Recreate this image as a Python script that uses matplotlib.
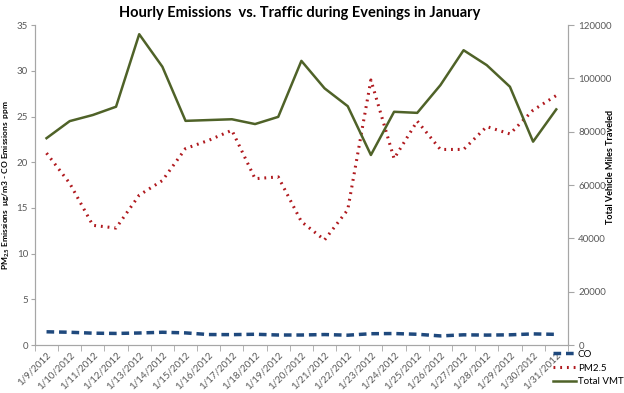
import matplotlib
matplotlib.use('Agg')
from matplotlib import pyplot as plt
import numpy as np

plt.rcParams['font.family'] = ['Lato', 'DejaVu Sans']
plt.rcParams['mathtext.default'] = 'regular'

# data
dates = ['1/9/2012', '1/10/2012', '1/11/2012', '1/12/2012', '1/13/2012', '1/14/2012',
         '1/15/2012', '1/16/2012', '1/17/2012', '1/18/2012', '1/19/2012', '1/20/2012',
         '1/21/2012', '1/22/2012', '1/23/2012', '1/24/2012', '1/25/2012', '1/26/2012',
         '1/27/2012', '1/28/2012', '1/29/2012', '1/30/2012', '1/31/2012']
co = [1.45, 1.40, 1.30, 1.27, 1.32, 1.40, 1.33, 1.15, 1.14, 1.18, 1.10, 1.10,
      1.15, 1.08, 1.24, 1.26, 1.18, 1.00, 1.12, 1.09, 1.12, 1.22, 1.17]
pm25 = [21.0, 17.7, 13.1, 12.8, 16.4, 18.0, 21.5, 22.4, 23.5, 18.2, 18.4, 13.5,
        11.5, 14.8, 29.0, 20.4, 24.5, 21.4, 21.4, 23.9, 23.1, 25.7, 27.3]
vmt = [77600, 84000, 86300, 89400, 116600, 104400, 84100, 84400, 84700, 82900, 85600,
       106600, 96300, 89600, 71300, 87500, 87100, 97500, 110600, 105000, 96900, 76300, 88400]

x = np.arange(len(dates))
grey = '#595959'
spine_c = '#a6a6a6'

fig = plt.figure(figsize=(6.24, 3.93), dpi=100)
ax = fig.add_axes([0.056, 0.122, 0.854, 0.814])
ax2 = ax.twinx()

l1, = ax.plot(x, co, color='#1f497d', lw=2.5, ls=(0, (2.2, 1.4)), label='CO')
l2, = ax.plot(x, pm25, color='#b0191e', lw=2.2, ls=(0, (0.6, 1.6)), label='PM2.5')
l3, = ax2.plot(x, vmt, color='#4f6228', lw=1.8, label='Total VMT')

ax.set_xlim(-0.5, len(dates) - 0.5)
ax.set_ylim(0, 35)
ax.set_yticks(np.arange(0, 36, 5))
ax2.set_ylim(0, 120000)
ax2.set_yticks(np.arange(0, 120001, 20000))

ax.set_xticks(x)
ax.set_xticklabels(dates, rotation=45, ha='right', rotation_mode='anchor', fontsize=7, color=grey)
ax.set_xticks(np.arange(-0.5, len(dates), 1), minor=True)
ax.tick_params(axis='x', which='major', length=0, pad=4)
ax.tick_params(axis='x', which='minor', length=4, color=spine_c)
ax.tick_params(axis='y', labelsize=7, colors=grey, length=3, color=spine_c, pad=2)
ax2.tick_params(axis='y', labelsize=7, colors=grey, length=4, color=spine_c)

for a in (ax, ax2):
    a.spines['top'].set_visible(False)
    for s in ('left', 'right', 'bottom'):
        a.spines[s].set_color(spine_c)

# axis titles placed in figure coords so they stay inside the canvas
fig.text(0.011, 0.53, 'PM$_{2.5}$ Emissions  \u03bcg/m3 - CO Emissions  ppm', fontsize=6,
         fontweight='bold', rotation=90, ha='center', va='center')
fig.text(0.978, 0.575, 'Total Vehicle Miles Traveled', fontsize=6.5, fontweight='bold',
         rotation=90, ha='center', va='center')

fig.suptitle('Hourly Emissions  vs. Traffic during Evenings in January', fontsize=10.5,
             fontweight='bold', x=0.48, y=0.985)

fig.legend(handles=[l1, l2, l3], loc='upper left', bbox_to_anchor=(0.887, 0.11),
           frameon=False, fontsize=7, handlelength=2.3, handletextpad=0.2,
           labelspacing=0.5, borderaxespad=0, borderpad=0)

plt.savefig('out.png', dpi=100)
